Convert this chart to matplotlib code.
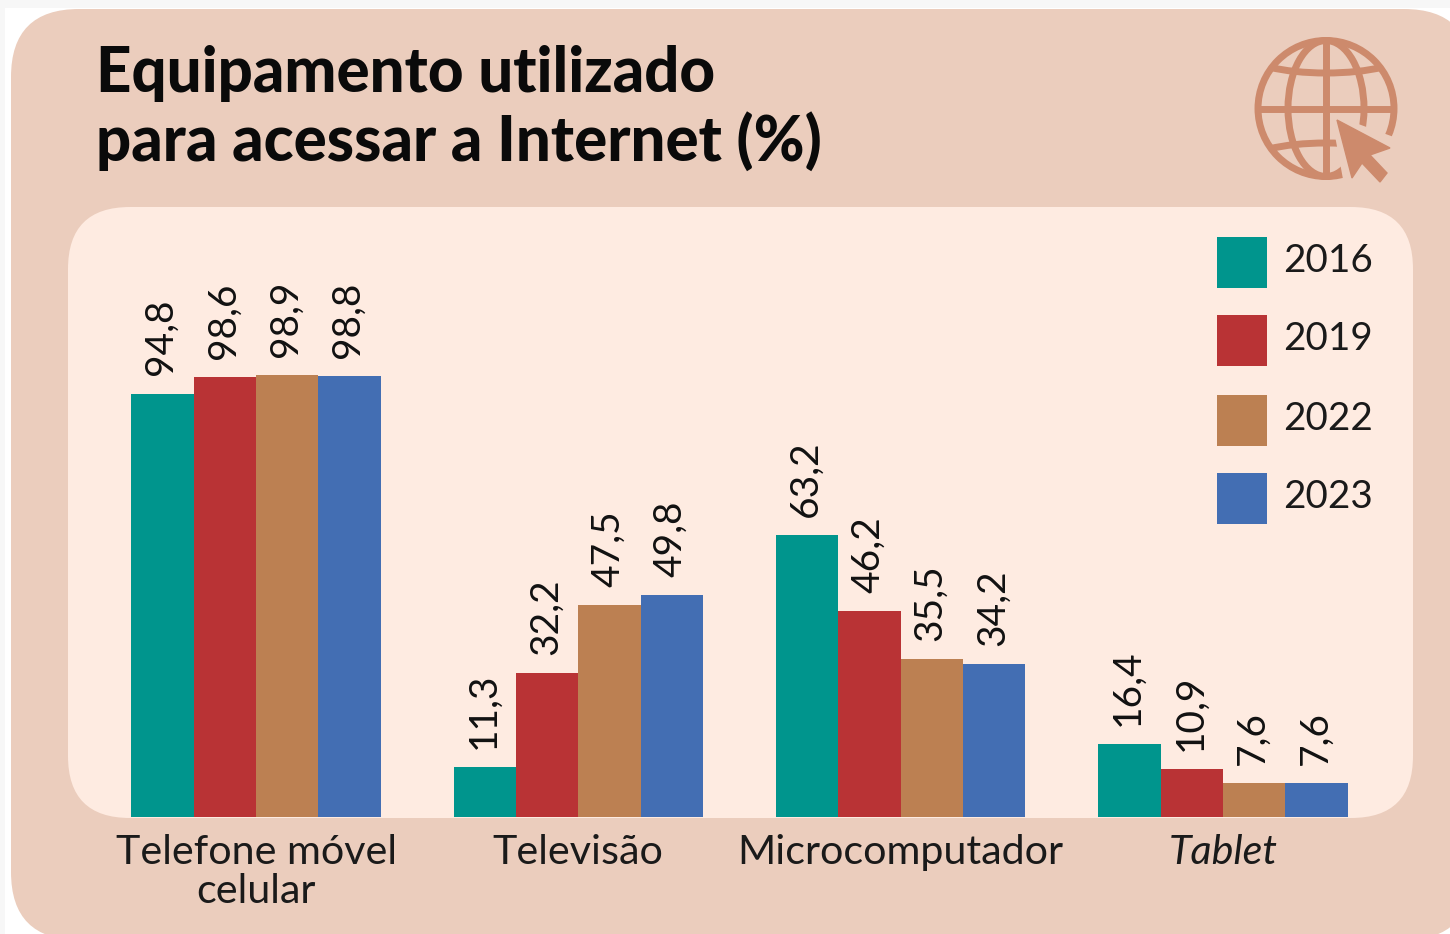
import matplotlib
matplotlib.use("Agg")
import numpy as np
import matplotlib.pyplot as plt
from matplotlib.patches import FancyBboxPatch, Circle, Ellipse, Polygon, Rectangle

W = 1450
H = 934

categories = ["Telefone móvel\ncelular", "Televisão", "Microcomputador", "Tablet"]
years = ["2016", "2019", "2022", "2023"]
v2016 = [94.8, 11.3, 63.2, 16.4]
v2019 = [98.6, 32.2, 46.2, 10.9]
v2022 = [98.9, 47.5, 35.5, 7.6]
v2023 = [98.8, 49.8, 34.2, 7.6]
series = [v2016, v2019, v2022, v2023]
colors = ["#00958d", "#b93335", "#bc8052", "#436eb3"]

OUTER = "#ebcdbd"
INNER = "#feebe1"
ICON = "#cd8a6c"

plt.rcParams["font.family"] = ["Lato", "DejaVu Sans"]

fig = plt.figure(figsize=(W / 100, H / 100), dpi=100, facecolor="white")

# background layer in pixel coordinates, y going down
bg = fig.add_axes([0, 0, 1, 1])
bg.set_xlim(0, W)
bg.set_ylim(H, 0)
bg.axis("off")


def rounded(x0, y0, x1, y1, r, color):
    p = FancyBboxPatch((x0 + r, y0 + r), x1 - x0 - 2 * r, y1 - y0 - 2 * r,
                       boxstyle=f"round,pad={r},rounding_size={r}",
                       fc=color, ec="none")
    bg.add_patch(p)


bg.add_patch(Rectangle((0, 0), W, 8, fc="#f7f7f7", ec="none"))
bg.add_patch(Rectangle((0, 0), 5, H, fc="#f7f7f7", ec="none"))
rounded(11, 9, 1472, 940, 68, OUTER)
rounded(68, 207, 1413, 818, 62, INNER)

# globe icon
cx, cy, r = 1326, 108.5, 68
lw = 5
bg.add_patch(Circle((cx, cy), r, fc="none", ec=ICON, lw=lw))
bg.add_patch(Ellipse((cx, cy), 76, 2 * r, fc="none", ec=ICON, lw=lw))
bg.plot([cx, cx], [cy - r, cy + r], color=ICON, lw=lw, solid_capstyle="butt")
bg.plot([cx - r, cx + r], [cy, cy], color=ICON, lw=lw, solid_capstyle="butt")
clip = Circle((cx, cy), r, transform=bg.transData)
for yc in [53, 163]:
    lat = Ellipse((cx, yc), 160, 40, fc="none", ec=ICON, lw=lw)
    bg.add_patch(lat)
    lat.set_clip_path(clip)
# knock out the part of the globe behind the cursor, then the cursor
bg.add_patch(Polygon([(1331, 114), (1402, 140), (1405, 190), (1345, 190)], fc=OUTER, ec="none"))
bg.add_patch(Polygon([(1337, 120), (1390, 148), (1370, 155), (1387, 173), (1380, 182),
                      (1362, 163), (1352, 178)], fc=ICON, ec=ICON, lw=1))

# chart axes share the bottom edge of the inner panel
ppu = 4.47
bw = 62.4
pitch = 322.3
x0_px = 256.0
base_px = 817.3
ax = fig.add_axes([0, (H - base_px) / H, 1, 610 / H])
ax.patch.set_alpha(0)
ax.set_xlim(-x0_px / pitch, (W - x0_px) / pitch)
ax.set_ylim(0, 610 / ppu)
for s in ax.spines.values():
    s.set_visible(False)
ax.set_yticks([])

x = np.arange(len(categories))
width = bw / pitch
for i, (vals, c) in enumerate(zip(series, colors)):
    pos = x + (i - 1.5) * width
    ax.bar(pos, vals, width=width, color=c, linewidth=0)
    for px, v in zip(pos, vals):
        ax.annotate(f"{v:.1f}".replace(".", ","), (px, v), xytext=(-1, 13),
                    textcoords="offset points", rotation=90, ha="center", va="bottom",
                    fontsize=28, color="#111111")

ax.set_xticks(x)
ax.set_xticklabels(categories, fontsize=29.7, color="#1a1a1a", linespacing=1.06)
ax.tick_params(axis="x", length=0, pad=12)
ax.get_xticklabels()[3].set_style("italic")

# legend
for y, c, top in zip(years, colors, [237, 315, 395, 473]):
    bg.add_patch(Rectangle((1217, top), 50, 51, fc=c, ec="none", zorder=5))
    bg.text(1283, top + 24, y, fontsize=27.8, va="center", ha="left", color="#1a1a1a", zorder=5)

bg.text(96, 108, "Equipamento utilizado\npara acessar a Internet (%)", fontsize=44.5,
        fontweight="black", va="center", ha="left", color="#0a0a0a", linespacing=1.2)

fig.savefig("out.png", dpi=100)
